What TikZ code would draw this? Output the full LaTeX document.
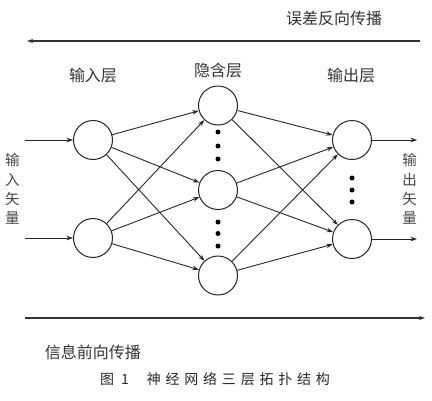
\documentclass[tikz,border=0pt]{standalone}
\usepackage{fontspec}
\newfontfamily\cjk{Noto Sans CJK SC}
\usetikzlibrary{arrows.meta}
\begin{document}
\begin{tikzpicture}[x=1pt,y=-1pt,
  neuron/.style={circle,draw=black!85,line width=1pt,minimum size=39pt,inner sep=0pt,fill=white},
  conn/.style={draw=black!85,line width=0.9pt,-{Stealth[length=6.5pt,width=4.5pt]}},
  bigarrow/.style={draw=black!80,line width=1.1pt,-{Stealth[length=6pt,width=4pt]}},
  dotnode/.style={circle,fill=black,inner sep=0pt,minimum size=5pt},
  lbl/.style={text=black!80,font=\cjk\fontsize{16}{18}\selectfont,inner sep=0pt},
  vlbl/.style={text=black!72,font=\cjk\fontsize{14.5}{19.3}\selectfont,align=center,inner sep=0pt},
  captxt/.style={text=black!85,font=\cjk\fontsize{14}{16}\selectfont,inner sep=0pt}]
\useasboundingbox (0,0) rectangle (432,400);

% layer labels
\node[lbl] (t1) at (334,18) {误差反向传播};
\node[lbl] (l1) at (93,75) {输入层};
\node[lbl] (l2) at (218,70) {隐含层};
\node[lbl] (l3) at (351,75) {输出层};
\node[lbl] (b1) at (93,352) {信息前向传播};
\node[captxt] (c1) at (215,379) {图\hspace{7pt}1\hspace{18pt}神\hspace{4.8pt}经\hspace{4.8pt}网\hspace{4.8pt}络\hspace{4.8pt}三\hspace{4.8pt}层\hspace{4.8pt}拓\hspace{4.8pt}扑\hspace{4.8pt}结\hspace{4.8pt}构};

% big arrows
\coordinate (ta) at (420,41);
\coordinate (tb) at (27,41);
\draw[bigarrow] (ta) -- (tb);
\coordinate (ba) at (25,318);
\coordinate (bb) at (425,318);
\draw[bigarrow] (ba) -- (bb);

% neurons
\node[neuron] (i1) at (93,140) {};
\node[neuron] (i2) at (93,238) {};
\node[neuron] (h1) at (218,105.5) {};
\node[neuron] (h2) at (218,190) {};
\node[neuron] (h3) at (218,275.5) {};
\node[neuron] (o1) at (352,140) {};
\node[neuron] (o2) at (352,239) {};

% dots
\node[dotnode] (d1) at (218,132) {};
\node[dotnode] (d2) at (218,146) {};
\node[dotnode] (d3) at (218,159) {};
\node[dotnode] (d4) at (218,222) {};
\node[dotnode] (d5) at (218,233.5) {};
\node[dotnode] (d6) at (218,246) {};
\node[dotnode] (d7) at (352,178) {};
\node[dotnode] (d8) at (352,190) {};
\node[dotnode] (d9) at (352,202) {};

% connections
\foreach \a in {i1,i2}{\foreach \b in {h1,h2,h3}{\draw[conn] (\a) -- (\b);}}
\foreach \a in {h1,h2,h3}{\foreach \b in {o1,o2}{\draw[conn] (\a) -- (\b);}}

% input / output arrows
\coordinate (in1) at (25,140);
\coordinate (in2) at (25,238);
\coordinate (out1) at (417,140);
\coordinate (out2) at (417,239);
\draw[conn] (in1) -- (i1);
\draw[conn] (in2) -- (i2);
\draw[conn] (o1) -- (out1);
\draw[conn] (o2) -- (out2);

% vertical labels
\node[vlbl] (vl) at (12.5,189) {输\\入\\矢\\量};
\node[vlbl] (vr) at (409.5,189) {输\\出\\矢\\量};
\end{tikzpicture}
\end{document}
